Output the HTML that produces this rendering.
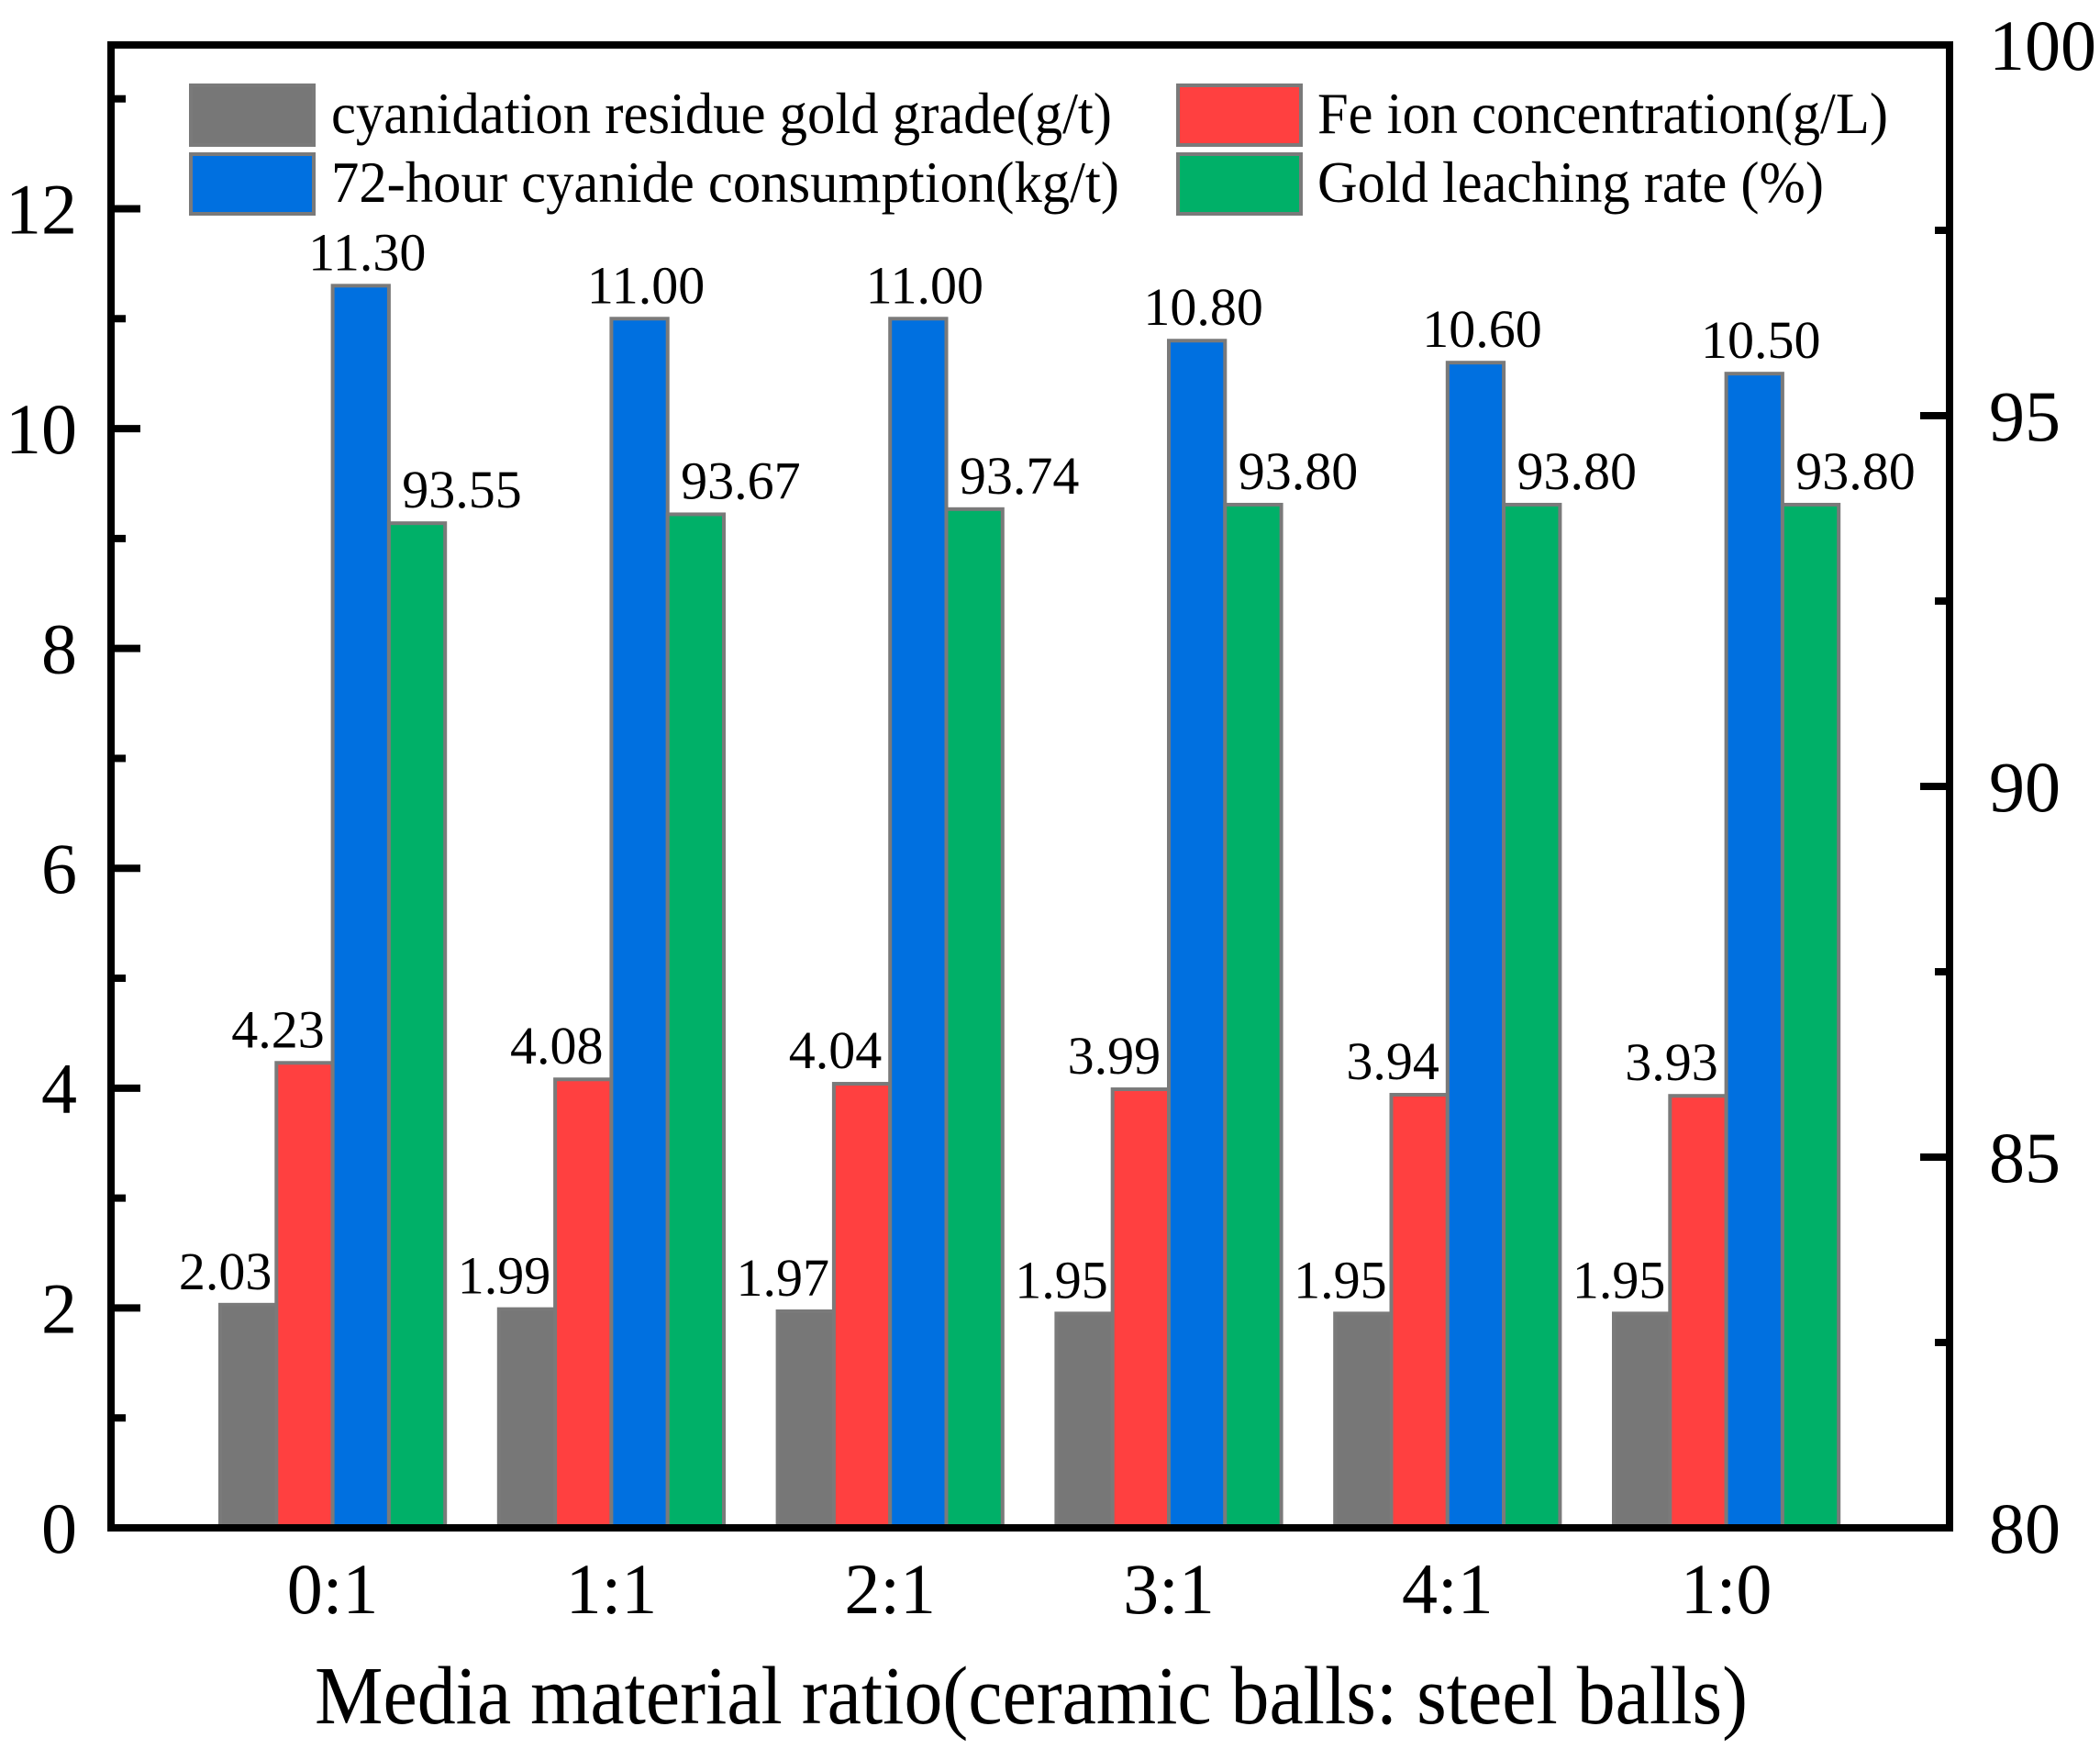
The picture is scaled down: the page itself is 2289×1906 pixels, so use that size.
<!DOCTYPE html>
<html><head><meta charset="utf-8">
<style>
html,body{margin:0;padding:0;background:#fff;}
svg{display:block;font-family:"Liberation Serif","Times New Roman",serif;}
</style></head>
<body>
<svg id="chart" width="2289" height="1906" viewBox="0 0 2289 1906" xmlns="http://www.w3.org/2000/svg">
  <rect x="0" y="0" width="2289" height="1906" fill="#fff"/>
  <g id="bars"></g>
  <g id="labels"></g>
  <g id="ticks"></g>
  <rect x="121" y="49" width="2004" height="1616" fill="none" stroke="#000" stroke-width="8"/>
  <g font-size="63">
    <rect x="208" y="93" width="134" height="65" fill="#777" stroke="#7a7a7a" stroke-width="4"/>
    <text x="361" y="145" textLength="851" lengthAdjust="spacingAndGlyphs">cyanidation residue gold grade(g/t)</text>
    <rect x="208" y="168" width="134" height="65" fill="#0070e0" stroke="#7a7a7a" stroke-width="4"/>
    <text x="361" y="220" textLength="859" lengthAdjust="spacingAndGlyphs">72-hour cyanide consumption(kg/t)</text>
    <rect x="1284" y="93" width="134" height="65" fill="#ff4040" stroke="#7a7a7a" stroke-width="4"/>
    <text x="1436" y="145" textLength="622" lengthAdjust="spacingAndGlyphs">Fe ion concentration(g/L)</text>
    <rect x="1284" y="168" width="134" height="65" fill="#00b068" stroke="#7a7a7a" stroke-width="4"/>
    <text x="1436" y="220" textLength="552" lengthAdjust="spacingAndGlyphs">Gold leaching rate (%)</text>
  </g>
  <text x="1124" y="1878" font-size="90" text-anchor="middle" textLength="1562" lengthAdjust="spacingAndGlyphs">Media material ratio(ceramic balls: steel balls)</text>
</svg>
<script>
const categories = ["0:1","1:1","2:1","3:1","4:1","1:0"];
const residueGrade = [2.03,1.99,1.97,1.95,1.95,1.95];
const feConc = [4.23,4.08,4.04,3.99,3.94,3.93];
const cyanideUse = [11.30,11.00,11.00,10.80,10.60,10.50];
const leachRate = [93.55,93.67,93.74,93.80,93.80,93.80];
const leftTicks = [0,2,4,6,8,10,12];
const rightTicks = [80,85,90,95,100];

const NS = "http://www.w3.org/2000/svg";
const plotTop = 49, plotBottom = 1665, leftX = 121, rightX = 2125;
const leftMax = 13.49, rightMin = 80, rightMax = 100;
function yL(v){ return plotBottom - v/leftMax*(plotBottom-plotTop); }
function yR(v){ return plotBottom - (v-rightMin)/(rightMax-rightMin)*(plotBottom-plotTop); }
const groupStart0 = 240, groupPitch = 303.8, barW = 61.3;
function xBar(ci, si){ return groupStart0 + ci*groupPitch + si*barW; }

function mk(tag, attrs, parent){
  const e = document.createElementNS(NS, tag);
  for (const k in attrs) e.setAttribute(k, attrs[k]);
  parent.appendChild(e);
  return e;
}
const gBars = document.getElementById('bars');
const gLab = document.getElementById('labels');
const gTick = document.getElementById('ticks');

const series = [
  {vals: residueGrade, color:"#777777", scale:yL, off:-25, fmt:2, name:"residue"},
  {vals: feConc, color:"#ff4040", scale:yL, off:-29, fmt:2, name:"fe"},
  {vals: cyanideUse, color:"#0070e0", scale:yL, off:7, fmt:2, name:"cyanide"},
  {vals: leachRate, color:"#00b068", scale:yR, off:49, fmt:2, name:"gold"}
];
series.forEach((s, si) => {
  categories.forEach((c, ci) => {
    const x = xBar(ci, si);
    const y = s.scale(s.vals[ci]);
    const r = mk('rect', {x:x, y:y, width:barW, height:plotBottom-y, fill:s.color, stroke:"#7a7a7a", "stroke-width":4}, gBars);
    
    
  });
});
series.forEach((s, si) => {
  categories.forEach((c, ci) => {
    const x = xBar(ci, si) + barW/2 + s.off;
    const y = s.scale(s.vals[ci]) - 17;
    const t = mk('text', {x:x, y:y, "font-size":58, "text-anchor":"middle"}, gLab);
    t.textContent = s.vals[ci].toFixed(s.fmt);
    
    
  });
});
// category labels
categories.forEach((c, ci) => {
  const t = mk('text', {x: groupStart0 + ci*groupPitch + 2*barW, y:1758, "font-size":78, "text-anchor":"middle"}, gTick);
  t.textContent = c;
  
  
});
// left ticks
for (let v = 1; v <= 13; v++) {
  const major = v % 2 === 0;
  const l = mk('line', {x1:leftX, x2:leftX + (major?32:16), y1:yL(v), y2:yL(v), stroke:"#000", "stroke-width":8}, gTick);
  
  
}
leftTicks.forEach(v => {
  const t = mk('text', {x:84, y:yL(v)+27, "font-size":78, "text-anchor":"end"}, gTick);
  t.textContent = v;
  
  
});
// right ticks
for (let v = 82.5; v < 100; v += 2.5) {
  const major = v % 5 === 0;
  const l = mk('line', {x1:rightX, x2:rightX - (major?32:16), y1:yR(v), y2:yR(v), stroke:"#000", "stroke-width":8}, gTick);
  
  
}
rightTicks.forEach(v => {
  const t = mk('text', {x:2168, y:yR(v)+27, "font-size":78, "text-anchor":"start"}, gTick);
  t.textContent = v;
  
  
});
</script>
</body></html>
